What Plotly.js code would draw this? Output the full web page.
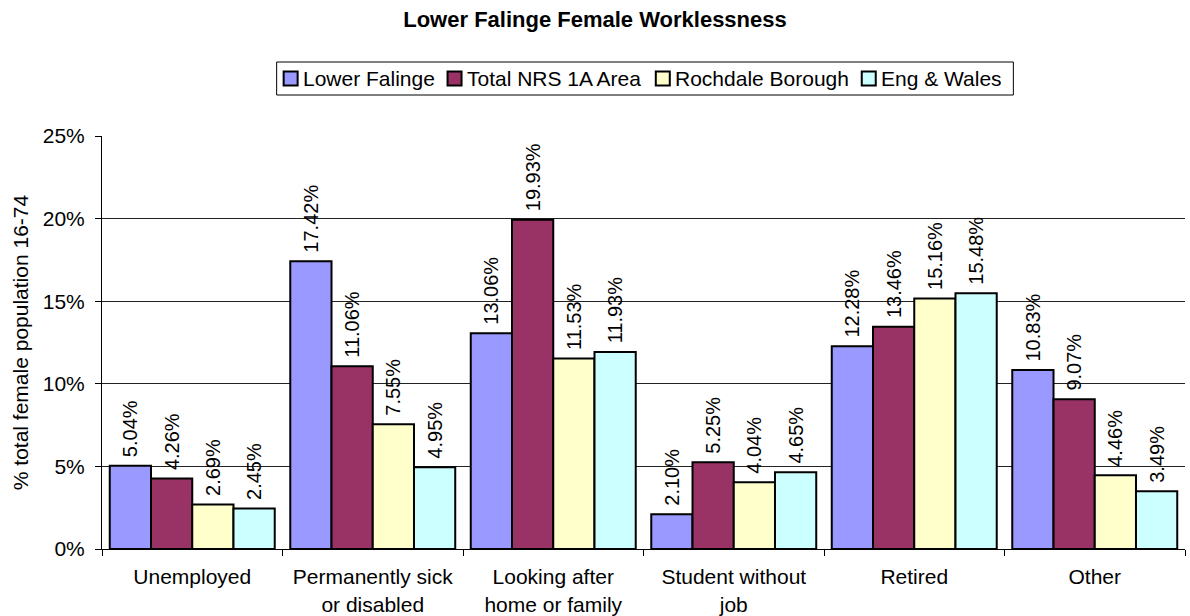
<!DOCTYPE html>
<html>
<head>
<meta charset="utf-8">
<script src="https://cdn.plot.ly/plotly-3.0.1.min.js"></script>
<style>html,body{margin:0;padding:0;background:#fff;}#chart{width:1190px;height:616px;}</style>
</head>
<body>
<div id="chart"></div>
<script>
const categories = ["Unemployed", "Permanently sick<br>or disabled", "Looking after<br>home or family", "Student without<br>job", "Retired", "Other"];
const seriesNames = ["Lower Falinge", "Total NRS 1A Area", "Rochdale Borough", "Eng & Wales"];
const lowerFalinge = [5.04, 17.42, 13.06, 2.10, 12.28, 10.83];
const totalNRS = [4.26, 11.06, 19.93, 5.25, 13.46, 9.07];
const rochdale = [2.69, 7.55, 11.53, 4.04, 15.16, 4.46];
const engWales = [2.45, 4.95, 11.93, 4.65, 15.48, 3.49];
const colors = ["#9999FF", "#993366", "#FFFFCC", "#CCFFFF"];
const yTicks = [0, 5, 10, 15, 20, 25];

const allSeries = [lowerFalinge, totalNRS, rochdale, engWales];
const font = "Arial, 'Liberation Sans', sans-serif";

const W = 1190, H = 616;
const M = {l: 102, r: 5, t: 136, b: 67};
const plotW = W - M.l - M.r, plotH = H - M.t - M.b;
const px2x = px => (px - M.l) / plotW;
const py2y = py => (H - M.b - py) / plotH;

const traces = allSeries.map((vals, i) => ({
  type: "bar",
  name: seriesNames[i],
  x: categories,
  y: vals.map(v => v / 100),
  text: vals.map(v => "\u00A0" + v.toFixed(2) + "%"),
  textposition: "outside",
  textangle: -90,
  constraintext: "none",
  cliponaxis: false,
  textfont: {family: font, size: 20, color: "#000"},
  marker: {color: colors[i], line: {color: "#000", width: 2}},
  hoverinfo: "none",
  showlegend: false
}));

// Custom legend laid out like the original (small square, then name)
const ctx = document.createElement("canvas").getContext("2d");
ctx.font = "21px Arial, 'Liberation Sans', sans-serif";
const tw = seriesNames.map(n => ctx.measureText(n).width);
const sq = 14, gapAfterSq = 5, gapBetween = 13, padL = 7, padR = 12;
const legW = padL + tw.reduce((a, b) => a + b, 0) + seriesNames.length * (sq + gapAfterSq) + (seriesNames.length - 1) * gapBetween + padR;
const legCx = 645, legTop = 62, legBot = 95, legMid = (legTop + legBot) / 2;
const legLeft = legCx - legW / 2;

const shapes = [{
  type: "rect", xref: "paper", yref: "paper",
  x0: px2x(legLeft), x1: px2x(legLeft + legW), y0: py2y(legBot), y1: py2y(legTop),
  line: {color: "#000", width: 1}, fillcolor: "#fff", layer: "above"
}];
const annotations = [];
let cur = legLeft + padL;
seriesNames.forEach((n, i) => {
  shapes.push({
    type: "rect", xref: "paper", yref: "paper",
    x0: px2x(cur), x1: px2x(cur + sq), y0: py2y(legMid + sq / 2), y1: py2y(legMid - sq / 2),
    line: {color: "#000", width: 2}, fillcolor: colors[i], layer: "above"
  });
  cur += sq + gapAfterSq;
  annotations.push({
    xref: "paper", yref: "paper", x: px2x(cur - 2), y: py2y(legMid),
    xanchor: "left", yanchor: "middle", showarrow: false,
    text: n, font: {family: font, size: 21, color: "#000"}
  });
  cur += tw[i] + gapBetween;
});

const layout = {
  width: W, height: H,
  margin: M,
  paper_bgcolor: "#fff", plot_bgcolor: "#fff",
  font: {family: font, size: 21, color: "#000"},
  title: {text: "<b>Lower Falinge Female Worklessness</b>", font: {family: font, size: 22, color: "#000"}, x: 0.5, xanchor: "center", xref: "container", y: 0.968, yanchor: "middle"},
  barmode: "group",
  bargap: 0.086,
  bargroupgap: 0,
  showlegend: false,
  shapes: shapes,
  annotations: annotations,
  xaxis: {
    type: "category",
    showline: true, linecolor: "#000", linewidth: 1,
    ticks: "outside", tickson: "boundaries", ticklen: 6, tickcolor: "#000",
    ticklabelstandoff: 9,
    tickfont: {family: font, size: 21, color: "#000"},
    showgrid: false, fixedrange: true
  },
  yaxis: {
    range: [0, 0.25],
    tickvals: yTicks.map(t => t / 100),
    ticktext: yTicks.map(t => t + "%"),
    showline: true, linecolor: "#000", linewidth: 1,
    ticks: "outside", ticklen: 6, tickcolor: "#000",
    ticklabelstandoff: 6,
    showgrid: true, gridcolor: "#222", gridwidth: 1,
    zeroline: false,
    tickfont: {family: font, size: 21, color: "#000"},
    title: {text: "% total female population 16-74", font: {family: font, size: 21, color: "#000"}, standoff: 8},
    fixedrange: true
  }
};

Plotly.newPlot("chart", traces, layout, {displayModeBar: false, staticPlot: true});
</script>
</body>
</html>
